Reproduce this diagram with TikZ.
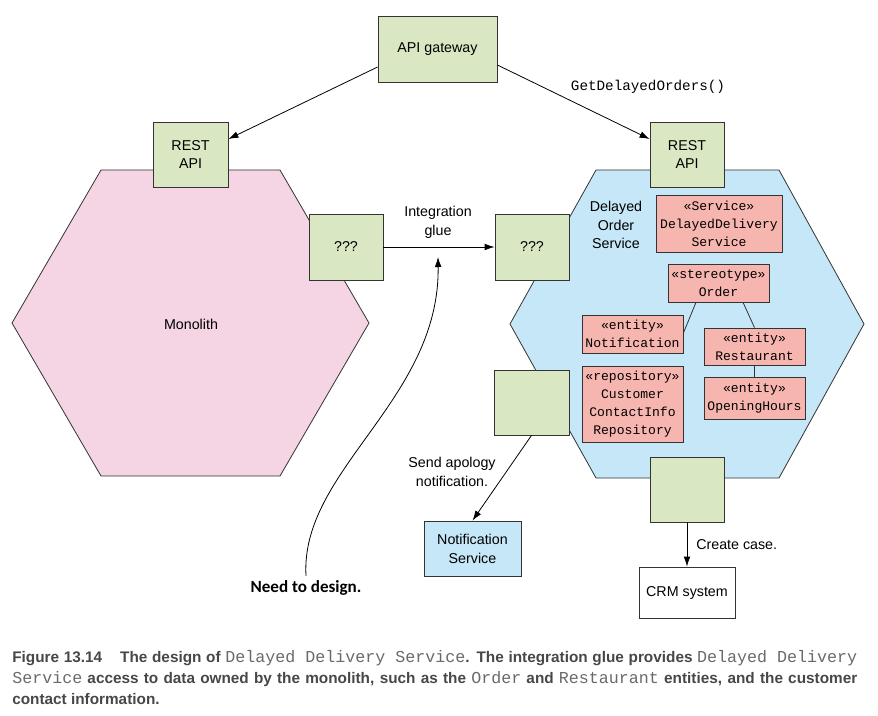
\documentclass[tikz,border=0pt]{standalone}
\usepackage{fontspec}
\setmainfont{Liberation Sans}
\setmonofont{Liberation Mono}
\newfontfamily\capfont{Liberation Sans}
\newfontfamily\needfont{Carlito}
\usetikzlibrary{arrows.meta}
\definecolor{gfill}{HTML}{D9E8C2}
\definecolor{pinkhex}{HTML}{F5D4E4}
\definecolor{bluehex}{HTML}{C6E7F8}
\definecolor{salmon}{HTML}{F7B5B0}
\definecolor{edge}{HTML}{333333}
\definecolor{capdark}{HTML}{474747}
\definecolor{capmono}{HTML}{6A6A6A}
\newcommand\capmono[1]{{\color{capmono}\fontsize{12.5pt}{15pt}\ttfamily\mdseries #1}}
\tikzset{
  box/.style={draw=edge, line width=0.6pt, inner sep=0pt, align=center,
    font=\fontsize{10.7pt}{14.2pt}\selectfont},
  gbox/.style={box, fill=gfill},
  bbox/.style={box, fill=bluehex},
  wbox/.style={box, fill=white},
  pbox/.style={box, fill=salmon, font=\fontsize{9.8pt}{13.5pt}\ttfamily},
  hex/.style={draw=edge, line width=0.6pt},
  arr/.style={draw=black, line width=0.6pt, -{Latex[length=7.5pt,width=5pt]}},
  link/.style={draw=edge, line width=0.6pt},
  lbl/.style={align=center, inner sep=0pt, font=\fontsize{10.7pt}{14pt}\selectfont},
  capline/.style={anchor=base west, inner sep=0pt, text=capdark,
    font=\capfont\bfseries\fontsize{11.5pt}{14pt}\selectfont},
}
\begin{document}
\begin{tikzpicture}[x=0.75pt,y=-0.75pt]
\useasboundingbox (0,0) rectangle (878,716);
% hexagons
\draw[hex, fill=pinkhex] (101,170) -- (280,170) -- (369,323) -- (280,476) -- (101,476) -- (12,323) -- cycle;
\draw[hex, fill=bluehex] (596,170) -- (779,170) -- (864,324) -- (779,478) -- (596,478) -- (510,324) -- cycle;
\node[lbl] (mono) at (191,324) {Monolith};
\node[lbl] (dos) at (616,225) {Delayed\\Order\\Service};
% green boxes
\node[gbox, minimum width=89.25pt, minimum height=49.5pt] (gw) at (437.5,49) {API gateway};
\node[gbox, minimum width=56.25pt, minimum height=48.75pt] (restL) at (190.5,154.5) {REST\\API};
\node[gbox, minimum width=55.5pt, minimum height=48.75pt] (restR) at (687,154.5) {REST\\API};
\node[gbox, minimum width=55.5pt, minimum height=49.5pt] (qL) at (346,247) {???};
\node[gbox, minimum width=55.5pt, minimum height=49.5pt] (qR) at (532,247) {???};
\node[gbox, minimum width=56.25pt, minimum height=48.75pt] (gBL) at (531.5,402.5) {};
\node[gbox, minimum width=55.5pt, minimum height=48.75pt] (gB) at (687,489.5) {};
\node[bbox, minimum width=72.75pt, minimum height=41.25pt] (notif) at (472.5,548.5) {Notification\\Service};
\node[wbox, minimum width=72pt, minimum height=38.25pt] (crm) at (687,592.5) {CRM system};
% pink boxes
\node[pbox, minimum width=94.5pt, minimum height=42.75pt] (svc) at (719,223.5) {«Service»\\DelayedDelivery\\Service};
\node[pbox, minimum width=75.75pt, minimum height=28.5pt] (order) at (718.5,283) {«stereotype»\\Order};
\node[pbox, minimum width=75.75pt, minimum height=28.5pt] (notifE) at (632.5,334) {«entity»\\Notification};
\node[pbox, minimum width=75.75pt, minimum height=27.75pt] (rest) at (754.5,346.5) {«entity»\\Restaurant};
\node[pbox, minimum width=75.75pt, minimum height=31.5pt] (hours) at (754.5,398) {«entity»\\OpeningHours};
\node[pbox, minimum width=75.75pt, minimum height=57pt] (repo) at (632.5,404) {«repository»\\Customer\\ContactInfo\\Repository};
\draw[link] ([xshift=-16.9pt]order.south) -- ([yshift=0.75pt]notifE.east);
\draw[link] ([xshift=18.4pt]order.south) -- (rest.north);
\draw[link] (rest.south) -- (hours.north);
% connectors
\draw[arr] ([yshift=-13.5pt]gw.west) -- ([yshift=11.6pt]restL.east);
\draw[arr] ([yshift=-12pt]gw.east) -- ([yshift=11.6pt]restR.west);
\node[lbl, font=\fontsize{10.7pt}{13pt}\ttfamily] (gdo) at (648,87) {GetDelayedOrders()};
\draw[arr] (qL.east) -- (qR.west);
\node[lbl] (glue) at (438,222) {Integration\\glue};
\coordinate (gluetip) at (438,257);
\node[font=\needfont\bfseries\fontsize{12.8pt}{15pt}\selectfont] (need) at (306,588) {Need to design.};
\draw[arr] (need.north) .. controls (300,470) and (440,400) .. (gluetip);
\draw[arr] (gBL.south) -- (notif.north);
\node[lbl] (apology) at (452,472) {Send apology\\notification.};
\draw[arr] (gB.south) -- (crm.north);
\node[lbl, anchor=west] (cc) at (696,545) {Create case.};
% caption
\node[capline] (cap1) at (12,662.5)
  {\makebox[633.75pt][s]{Figure 13.14\hspace{10pt} The design of \capmono{Delayed Delivery Service}. The integration glue provides \capmono{Delayed Delivery}}};
\node[capline] (cap2) at (12,683)
  {\makebox[633.75pt][s]{\capmono{Service} access to data owned by the monolith, such as the \capmono{Order} and \capmono{Restaurant} entities, and the customer}};
\node[capline] (cap3) at (12,704)
  {contact information.};
\end{tikzpicture}
\end{document}
